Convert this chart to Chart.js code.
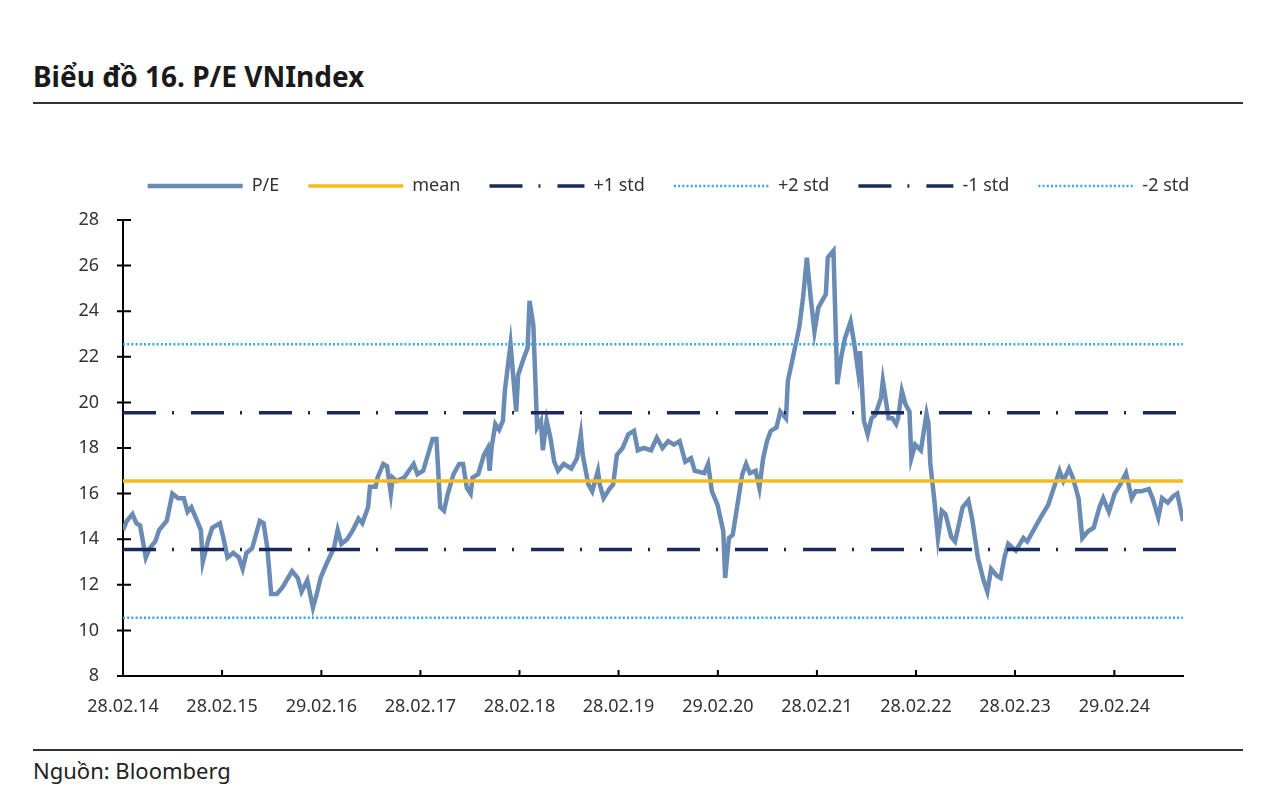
<!DOCTYPE html>
<html lang="vi">
<head>
<meta charset="utf-8">
<title>Biểu đồ 16. P/E VNIndex</title>
<script src="https://cdn.jsdelivr.net/npm/chart.js@4.4.1/dist/chart.umd.min.js"></script>
<style>
  body { margin: 0; background: #fff; font-family: "Noto Sans", sans-serif; color: #222; }
  .page { position: relative; width: 1286px; height: 802px; overflow: hidden; }
  .title { position: absolute; left: 33px; top: 57px; font-size: 28px; font-weight: bold; color: #1a1a1a; }
  .rule { position: absolute; left: 33px; width: 1210px; background: #333; }
  #chart-box { position: absolute; left: 60px; top: 144px; width: 1216px; height: 578px; }
  .source { position: absolute; left: 33px; top: 755px; font-size: 22px; color: #222; }
</style>
</head>
<body>
<div class="page">
  <div class="title">Biểu đồ 16. P/E VNIndex</div>
  <div class="rule" style="top:102px;height:2px;"></div>
  <div id="chart-box"><canvas id="peChart"></canvas></div>
  <div class="rule" style="top:749px;height:1.5px;"></div>
  <div class="source">Nguồn: Bloomberg</div>
</div>

<script>
// P/E VNIndex, weeks counted from 28.02.14
const weekNo = [
  0, 2, 5, 7, 9, 12, 14, 17, 19, 23, 26, 29, 32, 34, 36, 39, 41, 42, 45, 47,
  51, 53, 55, 58, 61, 63, 65, 68, 72, 74, 76, 78, 81, 84, 89, 92, 94, 97, 100, 102,
  104, 107, 111, 113, 115, 118, 121, 124, 126, 129, 130, 133, 134, 137, 139, 141, 142, 144, 148, 153,
  155, 158, 163, 165, 167, 169, 171, 174, 177, 179, 181, 183, 184, 187, 190, 192, 193, 194, 196, 198,
  200, 201, 204, 207, 208, 211, 213, 214, 216, 218, 220, 221, 223, 225, 227, 229, 232, 236, 239, 241,
  242, 245, 247, 250, 251, 253, 256, 258, 260, 263, 266, 269, 271, 274, 278, 281, 284, 287, 290, 293,
  296, 299, 301, 306, 308, 310, 313, 316, 317, 319, 321, 324, 326, 328, 330, 333, 335, 337, 339, 341,
  344, 346, 349, 350, 353, 356, 358, 360, 362, 364, 366, 368, 370, 371, 374, 376, 378, 380, 383, 385,
  387, 388, 390, 392, 394, 396, 399, 400, 403, 405, 407, 408, 410, 412, 414, 415, 417, 420, 423, 424,
  425, 427, 429, 431, 433, 436, 438, 442, 445, 447, 450, 453, 455, 457, 460, 462, 464, 466, 470, 474,
  476, 480, 483, 487, 490, 493, 495, 498, 500, 503, 505, 508, 511, 514, 516, 519, 522, 525, 528, 531,
  533, 536, 540, 542, 545, 547, 550, 553, 555, 558
];
const peValues = [
  14.4, 14.8, 15.1, 14.7, 14.6, 13.2, 13.6, 13.9, 14.4, 14.8, 16.0, 15.8, 15.8, 15.2, 15.4, 14.8, 14.4, 13.0, 14.0, 14.5,
  14.7, 14.0, 13.2, 13.4, 13.2, 12.7, 13.4, 13.6, 14.8, 14.7, 13.6, 11.6, 11.6, 11.9, 12.6, 12.3, 11.7, 12.2, 11.0, 11.6,
  12.3, 12.9, 13.6, 14.4, 13.8, 14.0, 14.4, 14.9, 14.7, 15.4, 16.3, 16.3, 16.7, 17.3, 17.2, 16.0, 16.7, 16.55, 16.7, 17.3,
  16.85, 17.0, 18.4, 18.4, 15.4, 15.25, 16.0, 16.85, 17.3, 17.3, 16.25, 16.0, 16.7, 16.85, 17.7, 18.0, 17.0, 18.0, 19.05, 18.8,
  19.2, 20.5, 22.55, 19.6, 21.2, 21.95, 22.4, 24.45, 23.4, 18.9, 19.2, 17.9, 19.2, 18.45, 17.4, 17.0, 17.3, 17.1, 17.55, 18.6,
  17.7, 16.4, 16.1, 17.0, 16.4, 15.8, 16.2, 16.4, 17.7, 18.0, 18.6, 18.75, 17.9, 18.0, 17.9, 18.45, 18.0, 18.3, 18.15, 18.3,
  17.4, 17.55, 17.0, 16.9, 17.3, 16.1, 15.5, 14.35, 12.3, 14.05, 14.2, 15.8, 16.85, 17.3, 16.9, 17.0, 16.25, 17.55, 18.3, 18.75,
  18.9, 19.6, 19.3, 20.95, 22.1, 23.3, 24.6, 26.35, 24.6, 23.1, 24.15, 24.45, 24.75, 26.35, 26.65, 20.8, 21.95, 22.8, 23.55, 22.55,
  21.35, 22.25, 19.2, 18.6, 19.3, 19.45, 20.2, 20.95, 19.3, 19.3, 19.05, 19.3, 20.5, 19.9, 19.6, 17.55, 18.15, 17.9, 19.5, 19.1,
  17.3, 15.8, 14.05, 15.25, 15.1, 14.1, 13.9, 15.4, 15.7, 14.9, 13.2, 12.2, 11.7, 12.7, 12.4, 12.3, 13.2, 13.8, 13.5, 14.05,
  13.9, 14.5, 14.95, 15.5, 16.25, 17.0, 16.55, 17.1, 16.7, 15.8, 14.05, 14.35, 14.5, 15.4, 15.8, 15.2, 16.0, 16.4, 16.9, 15.8,
  16.1, 16.1, 16.2, 15.8, 14.95, 15.8, 15.6, 15.9, 16.0, 14.8
];

// horizontal reference levels
const meanLevel = 16.55;
const plus1Std = 19.55;
const plus2Std = 22.55;
const minus1Std = 13.55;
const minus2Std = 10.55;

const tickDates = ['2014-02-28', '2015-02-28', '2016-02-29', '2017-02-28', '2018-02-28', '2019-02-28',
  '2020-02-29', '2021-02-28', '2022-02-28', '2023-02-28', '2024-02-29'];
const tickLabels = ['28.02.14', '28.02.15', '29.02.16', '28.02.17', '28.02.18', '28.02.19',
  '29.02.20', '28.02.21', '28.02.22', '28.02.23', '29.02.24'];

const startTime = Date.parse(tickDates[0]);
const tickWeeks = tickDates.map(d => (Date.parse(d) - startTime) / (7 * 86400000));
const lastWeek = weekNo[weekNo.length - 1];

const peSeries = weekNo.map((w, i) => ({ x: w, y: peValues[i] }));
const flat = level => [{ x: 0, y: level }, { x: lastWeek, y: level }];

const dashDot = [33, 16, 2, 17];
const dotted = [2, 2.2];

// tick marks: y ticks cross the axis, x ticks point up
const axisTicks = {
  id: 'axisTicks',
  afterDatasetsDraw(chart) {
    const { ctx, chartArea, scales } = chart;
    ctx.save();
    ctx.strokeStyle = '#000';
    ctx.lineWidth = 2;
    ctx.beginPath();
    scales.y.ticks.forEach(t => {
      const y = scales.y.getPixelForValue(t.value);
      ctx.moveTo(chartArea.left - 6, y);
      ctx.lineTo(chartArea.left + 8, y);
    });
    scales.x.ticks.forEach(t => {
      const x = scales.x.getPixelForValue(t.value);
      ctx.moveTo(x, chartArea.bottom);
      ctx.lineTo(x, chartArea.bottom - 6);
    });
    ctx.stroke();
    ctx.restore();
  }
};

// extra room under the legend row, and legend nudged right
const legendGap = {
  id: 'legendGap',
  beforeInit(chart) {
    const fit = chart.legend.fit;
    chart.legend.fit = function () {
      fit.call(this);
      this.height += 15;
    };
  },
  afterLayout(chart) {
    chart.legend.left += 47;
    chart.legend.right += 47;
  }
};

const ctx = document.getElementById('peChart').getContext('2d');
const peChart = new Chart(ctx, {
  type: 'line',
  data: {
    datasets: [
      { label: 'P/E', data: peSeries, borderColor: '#6a8bb3', borderWidth: 4.5, order: 2 },
      { label: 'mean', data: flat(meanLevel), borderColor: '#f5bb1b', borderWidth: 3.5, order: 1 },
      { label: '+1 std', data: flat(plus1Std), borderColor: '#1b2a5c', borderWidth: 3.5, borderDash: dashDot, order: 1 },
      { label: '+2 std', data: flat(plus2Std), borderColor: '#35a9dd', borderWidth: 2.5, borderDash: dotted, order: 1 },
      { label: '-1 std', data: flat(minus1Std), borderColor: '#1b2a5c', borderWidth: 3.5, borderDash: dashDot, order: 1 },
      { label: '-2 std', data: flat(minus2Std), borderColor: '#35a9dd', borderWidth: 2.5, borderDash: dotted, order: 1 }
    ]
  },
  options: {
    responsive: true,
    maintainAspectRatio: false,
    animation: false,
    layout: { padding: { right: 93, top: 4 } },
    elements: {
      point: { radius: 0, hoverRadius: 0 },
      line: { tension: 0, borderCapStyle: 'butt', fill: false }
    },
    plugins: {
      tooltip: { enabled: false },
      legend: {
        position: 'top',
        align: 'center',
        labels: {
          usePointStyle: true,
          pointStyleWidth: 95,
          padding: 29,
          color: '#333',
          font: { family: 'Noto Sans', size: 18 },
          generateLabels: chart => chart.data.datasets.map((ds, i) => ({
            text: ds.label,
            datasetIndex: i,
            strokeStyle: ds.borderColor,
            fillStyle: ds.borderColor,
            lineWidth: ds.borderWidth,
            lineDash: ds.borderDash || [],
            pointStyle: 'line',
            fontColor: '#333',
            hidden: false
          }))
        }
      }
    },
    scales: {
      x: {
        type: 'linear',
        min: 0,
        max: lastWeek,
        afterBuildTicks: s => { s.ticks = tickWeeks.map(v => ({ value: v })); },
        afterFit: s => { s.height = 46; },
        grid: { display: false },
        border: { display: true, color: '#000', width: 2 },
        ticks: {
          autoSkip: false,
          maxRotation: 0,
          padding: 12,
          color: '#333',
          font: { family: 'Noto Sans', size: 18 },
          callback: (v, i) => tickLabels[i]
        }
      },
      y: {
        min: 8,
        max: 28,
        afterFit: s => { s.width = 63; },
        grid: { display: false },
        border: { display: true, color: '#000', width: 2 },
        ticks: {
          stepSize: 2,
          padding: 16,
          color: '#333',
          font: { family: 'Noto Sans', size: 18 }
        }
      }
    }
  },
  plugins: [axisTicks, legendGap]
});
</script>
</body>
</html>
